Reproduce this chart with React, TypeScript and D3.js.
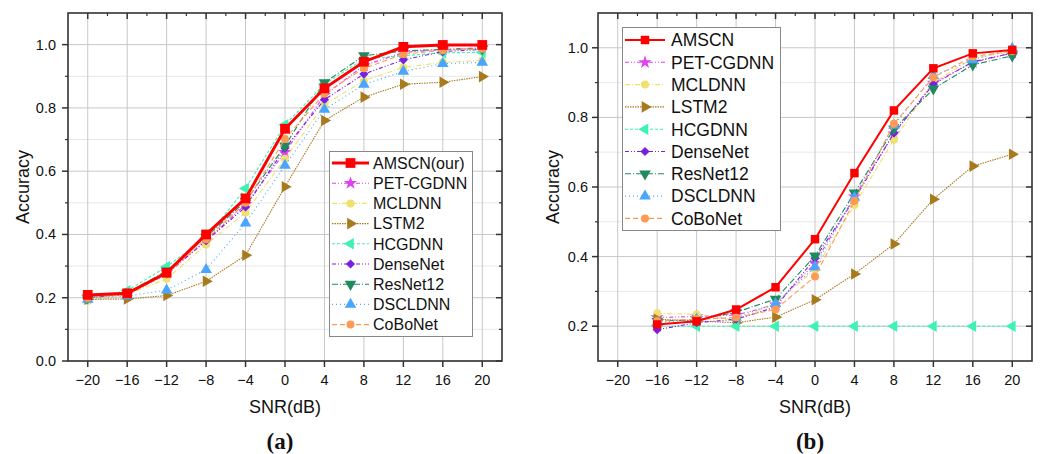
import React from "react";
import * as d3 from "d3";

// ---------- data ----------
const snrA = [-20, -16, -12, -8, -4, 0, 4, 8, 12, 16, 20];
const snrB = [-16, -12, -8, -4, 0, 4, 8, 12, 16, 20];
const xTicks = [-20, -16, -12, -8, -4, 0, 4, 8, 12, 16, 20];
const xMinor = [-18, -14, -10, -6, -2, 2, 6, 10, 14, 18];
const yTicksA = [0, 0.2, 0.4, 0.6, 0.8, 1.0];
const yMinorA = [0.1, 0.3, 0.5, 0.7, 0.9];
const yTicksB = [0.2, 0.4, 0.6, 0.8, 1.0];
const yMinorB = [0.3, 0.5, 0.7, 0.9];

const namesA = ["AMSCN(our)", "PET-CGDNN", "MCLDNN", "LSTM2", "HCGDNN", "DenseNet", "ResNet12", "DSCLDNN", "CoBoNet"];
const namesB = ["AMSCN", "PET-CGDNN", "MCLDNN", "LSTM2", "HCGDNN", "DenseNet", "ResNet12", "DSCLDNN", "CoBoNet"];

const amscnA = [0.209, 0.214, 0.279, 0.4, 0.514, 0.734, 0.862, 0.946, 0.993, 0.999, 0.999];
const petA = [0.2, 0.21, 0.28, 0.38, 0.495, 0.66, 0.84, 0.934, 0.975, 0.985, 0.99];
const mcldnnA = [0.19, 0.21, 0.26, 0.368, 0.469, 0.639, 0.81, 0.886, 0.928, 0.944, 0.95];
const lstmA = [0.195, 0.196, 0.207, 0.252, 0.334, 0.551, 0.76, 0.834, 0.875, 0.881, 0.899];
const hcgA = [0.2, 0.222, 0.298, 0.39, 0.545, 0.747, 0.875, 0.955, 0.965, 0.974, 0.976];
const denseA = [0.2, 0.21, 0.275, 0.38, 0.487, 0.673, 0.826, 0.907, 0.952, 0.978, 0.985];
const resA = [0.2, 0.215, 0.285, 0.392, 0.505, 0.68, 0.88, 0.965, 0.98, 0.985, 0.987];
const dscA = [0.195, 0.205, 0.224, 0.289, 0.436, 0.618, 0.795, 0.874, 0.915, 0.94, 0.944];
const coboA = [0.2, 0.21, 0.275, 0.385, 0.5, 0.702, 0.845, 0.925, 0.97, 0.982, 0.987];

const amscnB = [0.205, 0.214, 0.248, 0.312, 0.45, 0.64, 0.82, 0.941, 0.984, 0.994];
const petB = [0.225, 0.228, 0.232, 0.262, 0.381, 0.572, 0.753, 0.899, 0.958, 0.985];
const mcldnnB = [0.237, 0.234, 0.217, 0.265, 0.364, 0.548, 0.736, 0.9, 0.97, 0.99];
const lstmB = [0.22, 0.215, 0.21, 0.226, 0.276, 0.35, 0.436, 0.565, 0.66, 0.694];
const hcgB = [0.2, 0.2, 0.2, 0.2, 0.2, 0.2, 0.2, 0.2, 0.2, 0.2];
const denseB = [0.19, 0.21, 0.22, 0.255, 0.395, 0.565, 0.755, 0.895, 0.96, 0.985];
const resB = [0.215, 0.218, 0.24, 0.278, 0.402, 0.583, 0.767, 0.882, 0.951, 0.977];
const dscB = [0.21, 0.22, 0.225, 0.265, 0.37, 0.57, 0.777, 0.92, 0.965, 0.998];
const coboB = [0.215, 0.22, 0.225, 0.248, 0.343, 0.56, 0.782, 0.915, 0.975, 0.99];

// ---------- styles ----------
type Style = { color: string; dash: string; marker: string; rot: number; size: number };
const styles: Style[] = [
  { color: "#ff0000", dash: "", marker: "square", rot: 0, size: 80 },
  { color: "#e040f0", dash: "4,2,1,2,1,2", marker: "star", rot: 0, size: 55 },
  { color: "#efe070", dash: "5,2,1,2", marker: "circle", rot: 0, size: 50 },
  { color: "#a87a1e", dash: "1.5,1", marker: "triangle", rot: 90, size: 58 },
  { color: "#3ef2b4", dash: "3,2", marker: "triangle", rot: -90, size: 58 },
  { color: "#7a1fe0", dash: "4,2,1,2,1,2", marker: "diamond", rot: 45, size: 42 },
  { color: "#1f8a5e", dash: "6,2,1,2", marker: "triangle", rot: 180, size: 58 },
  { color: "#4aa5ff", dash: "1,3", marker: "triangle", rot: 0, size: 58 },
  { color: "#ff9a55", dash: "5,3", marker: "circle", rot: 0, size: 50 },
];

const symType = (m: string) =>
  m === "square" || m === "diamond"
    ? d3.symbolSquare
    : m === "star"
    ? d3.symbolStar
    : m === "circle"
    ? d3.symbolCircle
    : d3.symbolTriangle;

const FONT = "'Liberation Sans', Arial, sans-serif";

type PanelProps = {
  left: number;
  right: number;
  top: number;
  bottom: number;
  yDomain: [number, number];
  yTicks: number[];
  yMinor: number[];
  xs: number[];
  series: number[][];
  names: string[];
  mainWidth: number;
  legend: { x: number; y: number; w: number; h: number; rowH: number; font: number; lineX0: number; lineX1: number; textX: number; firstY: number };
  label: string;
  titleX: number;
  tickLabelGap: number;
};

function Panel(p: PanelProps) {
  const x = d3.scaleLinear().domain([-22, 22]).range([p.left, p.right]);
  const y = d3.scaleLinear().domain(p.yDomain).range([p.bottom, p.top]);
  const line = d3
    .line<number>()
    .x((_, i) => x(p.xs[i]))
    .y((d) => y(d));
  const order = [1, 2, 3, 4, 5, 6, 7, 8, 0];
  const midX = (p.left + p.right) / 2;
  const midY = (p.top + p.bottom) / 2;
  const mainSize = p.mainWidth > 2.5 ? 95 : 72;
  return (
    <g>
      {/* grid */}
      {p.yMinor.map((v) => (
        <line key={"gm" + v} x1={p.left} x2={p.right} y1={y(v)} y2={y(v)} stroke="#e8e8e8" strokeWidth={1} />
      ))}
      {p.yTicks.map((v) => (
        <line key={"gy" + v} x1={p.left} x2={p.right} y1={y(v)} y2={y(v)} stroke="#c8c8c8" strokeWidth={1} />
      ))}
      {xTicks.map((v) => (
        <line key={"gx" + v} x1={x(v)} x2={x(v)} y1={p.top} y2={p.bottom} stroke="#c8c8c8" strokeWidth={1} />
      ))}
      {/* series */}
      {order.map((si) => {
        const st = styles[si];
        const sym = d3.symbol().type(symType(st.marker)).size(si === 0 ? mainSize : st.size)();
        return (
          <g key={"s" + si}>
            <path
              d={line(p.series[si]) || ""}
              fill="none"
              stroke={st.color}
              strokeWidth={si === 0 ? p.mainWidth : 1.1}
              strokeDasharray={st.dash}
            />
            {p.series[si].map((v, i) => (
              <path
                key={i}
                d={sym || ""}
                transform={`translate(${x(p.xs[i])},${y(v)}) rotate(${st.rot})`}
                fill={st.color}
              />
            ))}
          </g>
        );
      })}
      {/* frame */}
      <rect x={p.left} y={p.top} width={p.right - p.left} height={p.bottom - p.top} fill="none" stroke="#333" strokeWidth={1.6} />
      {/* x ticks */}
      {xTicks.map((v) => (
        <g key={"xt" + v}>
          <line x1={x(v)} x2={x(v)} y1={p.bottom} y2={p.bottom + 6} stroke="#333" strokeWidth={1.5} />
          <line x1={x(v)} x2={x(v)} y1={p.top} y2={p.top + 6} stroke="#333" strokeWidth={1.5} />
          <text x={x(v)} y={p.bottom + 24} textAnchor="middle" fontFamily={FONT} fontSize={14.5} fill="#111">
            {v < 0 ? "\u2212" + Math.abs(v) : String(v)}
          </text>
        </g>
      ))}
      {xMinor.map((v) => (
        <g key={"xm" + v}>
          <line x1={x(v)} x2={x(v)} y1={p.top} y2={p.top + 3} stroke="#333" strokeWidth={1.2} />
        </g>
      ))}
      {/* y ticks */}
      {p.yTicks.map((v) => (
        <g key={"yt" + v}>
          <line x1={p.left - 6} x2={p.left} y1={y(v)} y2={y(v)} stroke="#333" strokeWidth={1.5} />
          <line x1={p.right - 6} x2={p.right} y1={y(v)} y2={y(v)} stroke="#333" strokeWidth={1.5} />
          <text x={p.left - p.tickLabelGap} y={y(v) + 5} textAnchor="end" fontFamily={FONT} fontSize={14.5} fill="#111">
            {v.toFixed(1)}
          </text>
        </g>
      ))}
      {p.yMinor.map((v) => (
        <g key={"ym" + v}>
          <line x1={p.left - 3} x2={p.left} y1={y(v)} y2={y(v)} stroke="#333" strokeWidth={1.2} />
          <line x1={p.right - 3} x2={p.right} y1={y(v)} y2={y(v)} stroke="#333" strokeWidth={1.2} />
        </g>
      ))}
      {/* titles */}
      <text x={midX} y={p.bottom + 52} textAnchor="middle" fontFamily={FONT} fontSize={18} fill="#111">
        SNR(dB)
      </text>
      <text
        transform={`translate(${p.titleX},${midY}) rotate(-90)`}
        textAnchor="middle"
        fontFamily={FONT}
        fontSize={18}
        fill="#111"
      >
        Accuracy
      </text>
      <text x={midX - 5} y={p.bottom + 88} textAnchor="middle" fontFamily="'Liberation Serif', 'Times New Roman', serif" fontWeight="bold" fontSize={23} fill="#111">
        {p.label}
      </text>
      {/* legend */}
      <rect x={p.legend.x} y={p.legend.y} width={p.legend.w} height={p.legend.h} fill="#fff" stroke="#888" strokeWidth={1} />
      {p.names.map((n, i) => {
        const st = styles[i];
        const cy = p.legend.firstY + i * p.legend.rowH;
        const mx = (p.legend.lineX0 + p.legend.lineX1) / 2;
        const sym = d3.symbol().type(symType(st.marker)).size(i === 0 ? mainSize : st.size)();
        return (
          <g key={"lg" + i}>
            <line
              x1={p.legend.lineX0}
              x2={p.legend.lineX1}
              y1={cy}
              y2={cy}
              stroke={st.color}
              strokeWidth={i === 0 ? p.mainWidth : 1.1}
              strokeDasharray={st.dash}
            />
            <path d={sym || ""} transform={`translate(${mx},${cy}) rotate(${st.rot})`} fill={st.color} />
            <text x={p.legend.textX} y={cy + p.legend.font * 0.36} fontFamily={FONT} fontSize={p.legend.font} fill="#111">
              {n}
            </text>
          </g>
        );
      })}
    </g>
  );
}

export default function App() {
  const seriesA = [amscnA, petA, mcldnnA, lstmA, hcgA, denseA, resA, dscA, coboA];
  const seriesB = [amscnB, petB, mcldnnB, lstmB, hcgB, denseB, resB, dscB, coboB];
  return (
    <svg width={1040} height={454} style={{ position: "absolute", left: 0, top: 0, background: "#fff" }}>
      <rect x={0} y={0} width={1040} height={454} fill="#fff" />
      <Panel
        left={68}
        right={502}
        top={13}
        bottom={361}
        yDomain={[0, 1.1]}
        yTicks={yTicksA}
        yMinor={yMinorA}
        xs={snrA}
        series={seriesA}
        names={namesA}
        mainWidth={3}
        legend={{ x: 329.5, y: 151.5, w: 143, h: 185, rowH: 20.2, font: 16, lineX0: 332, lineX1: 369, textX: 373, firstY: 163 }}
        label="(a)"
        titleX={29}
        tickLabelGap={12}
      />
      <Panel
        left={598}
        right={1032}
        top={13}
        bottom={361}
        yDomain={[0.1, 1.1]}
        yTicks={yTicksB}
        yMinor={yMinorB}
        xs={snrB}
        series={seriesB}
        names={namesB}
        mainWidth={2}
        legend={{ x: 622.5, y: 27.5, w: 158, h: 203, rowH: 22.3, font: 17.5, lineX0: 625, lineX1: 665, textX: 671, firstY: 40 }}
        label="(b)"
        titleX={559}
        tickLabelGap={10}
      />
    </svg>
  );
}
